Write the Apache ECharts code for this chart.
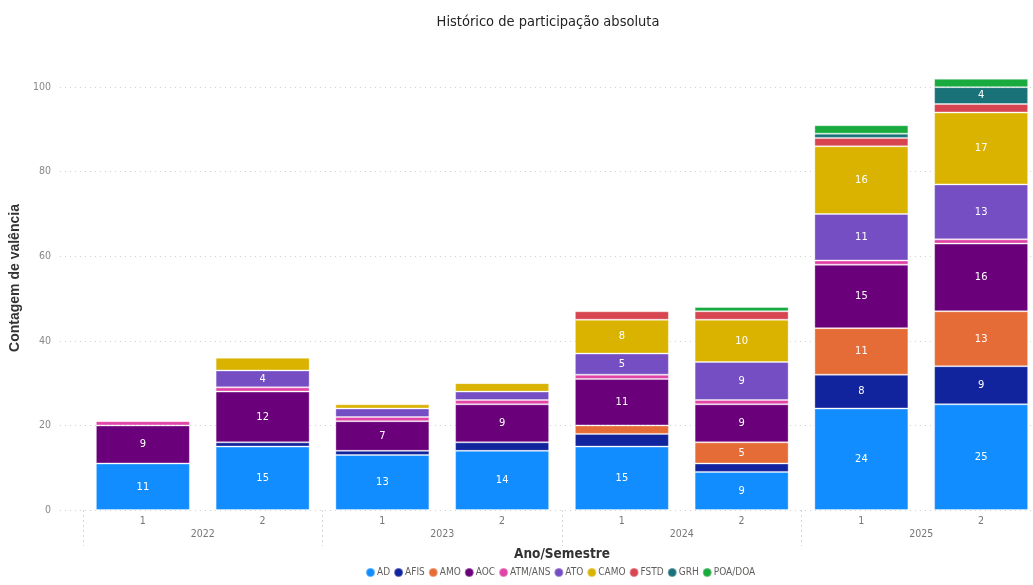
<!DOCTYPE html>
<html>
<head>
<meta charset="utf-8">
<script src="https://cdn.jsdelivr.net/npm/echarts@6/dist/echarts.min.js"></script>
<style>
  html, body { margin: 0; padding: 0; background: #fff; overflow: hidden; }
  #chart { width: 1050px; height: 585px; }
</style>
</head>
<body>
<div id="chart"></div>
<script>
// Ano/Semestre categories
const semesters = ['1', '2', '1', '2', '1', '2', '1', '2'];
const years = ['2022', '2023', '2024', '2025'];
const yTicks = [0, 20, 40, 60, 80, 100];

// Contagem por valência (null = sem participação)
const AD      = [11, 15, 13, 14, 15, 9, 24, 25];
const AFIS    = [null, 1, 1, 2, 3, 2, 8, 9];
const AMO     = [null, null, null, null, 2, 5, 11, 13];
const AOC     = [9, 12, 7, 9, 11, 9, 15, 16];
const ATM_ANS = [1, 1, 1, 1, 1, 1, 1, 1];
const ATO     = [null, 4, 2, 2, 5, 9, 11, 13];
const CAMO    = [null, 3, 1, 2, 8, 10, 16, 17];
const FSTD    = [null, null, null, null, 2, 2, 2, 2];
const GRH     = [null, null, null, null, null, null, 1, 4];
const POA_DOA = [null, null, null, null, null, 1, 2, 2];

const seriesDefs = [
  ['AD', AD, '#118DFF'],
  ['AFIS', AFIS, '#12239E'],
  ['AMO', AMO, '#E66C37'],
  ['AOC', AOC, '#6B007B'],
  ['ATM/ANS', ATM_ANS, '#E044A7'],
  ['ATO', ATO, '#744EC2'],
  ['CAMO', CAMO, '#D9B300'],
  ['FSTD', FSTD, '#D64550'],
  ['GRH', GRH, '#197278'],
  ['POA/DOA', POA_DOA, '#1AAB40']
];

const font = '"DejaVu Sans Condensed", "Noto Sans", sans-serif';
const yMax = 105;

const chart = echarts.init(document.getElementById('chart'), null, { renderer: 'canvas' });

chart.setOption({
  animation: false,
  textStyle: { fontFamily: font },
  title: {
    text: 'Histórico de participação absoluta',
    left: 543,
    textAlign: 'center',
    top: 10,
    textStyle: { fontFamily: font, fontSize: 14.5, fontWeight: 'normal', color: '#252423' }
  },
  legend: {
    left: 360,
    bottom: 2,
    icon: 'circle',
    itemWidth: 9,
    itemHeight: 9,
    itemGap: 3,
    textStyle: { fontFamily: font, fontSize: 10, color: '#605E5C', padding: [0, 0, 0, -3] },
    data: seriesDefs.map(d => d[0])
  },
  grid: [
    // value-axis grid (gridlines + labels)
    { left: 47, right: 0, top: 66, bottom: 75, containLabel: false },
    // bar grid
    { left: 83, width: 958, top: 66, bottom: 75, containLabel: false }
  ],
  xAxis: [
    { gridIndex: 0, type: 'value', show: false, min: 0, max: 1 },
    {
      gridIndex: 1,
      type: 'category',
      data: semesters,
      axisLine: { show: false },
      axisTick: { show: false },
      axisLabel: { margin: 6, fontSize: 10.5, color: '#777', fontFamily: font }
    },
    {
      gridIndex: 1,
      type: 'category',
      data: years,
      position: 'bottom',
      axisLine: { show: false },
      axisTick: {
        show: true,
        length: 36,
        lineStyle: { color: '#d6d6d6', type: [2, 3], width: 1 }
      },
      axisLabel: { margin: 19, fontSize: 10.5, color: '#777', fontFamily: font },
      name: 'Ano/Semestre',
      nameLocation: 'middle',
      nameGap: 37,
      nameTextStyle: { fontFamily: font, fontSize: 13.5, fontWeight: 'bold', color: '#333' }
    }
  ],
  yAxis: [
    {
      gridIndex: 0,
      type: 'value',
      min: 0,
      max: yMax,
      interval: 20,
      axisLine: { show: false },
      axisTick: { show: false },
      axisLabel: {
        margin: 9,
        fontSize: 10.5,
        color: '#888',
        fontFamily: font,
        showMaxLabel: false,
        formatter: v => (yTicks.includes(v) ? String(v) : '')
      },
      splitLine: {
        show: true,
        showMaxLine: false,
        lineStyle: { color: '#cfcfcf', type: [1, 4], width: 1 }
      },
      name: 'Contagem de valência',
      nameLocation: 'middle',
      nameGap: 30,
      nameTextStyle: {
        fontFamily: '"Liberation Sans", Arial, sans-serif',
        fontSize: 14,
        fontWeight: 'bold',
        color: '#333',
        padding: [0, 0, 0, 20]
      }
    },
    {
      gridIndex: 1,
      type: 'value',
      min: 0,
      max: yMax,
      interval: 20,
      show: false,
      splitLine: { show: false }
    }
  ],
  series: seriesDefs.map(([name, values, color]) => ({
    name: name,
    type: 'bar',
    stack: 'total',
    xAxisIndex: 1,
    yAxisIndex: 1,
    barWidth: '78.5%',
    data: values,
    itemStyle: { color: color, borderColor: 'rgba(255,255,255,0.35)', borderWidth: 1 },
    label: {
      show: true,
      position: 'inside',
      color: '#fff',
      fontSize: 11,
      fontFamily: font,
      formatter: p => (p.value != null && p.value >= 4 ? String(p.value) : '')
    }
  }))
});
</script>
</body>
</html>
